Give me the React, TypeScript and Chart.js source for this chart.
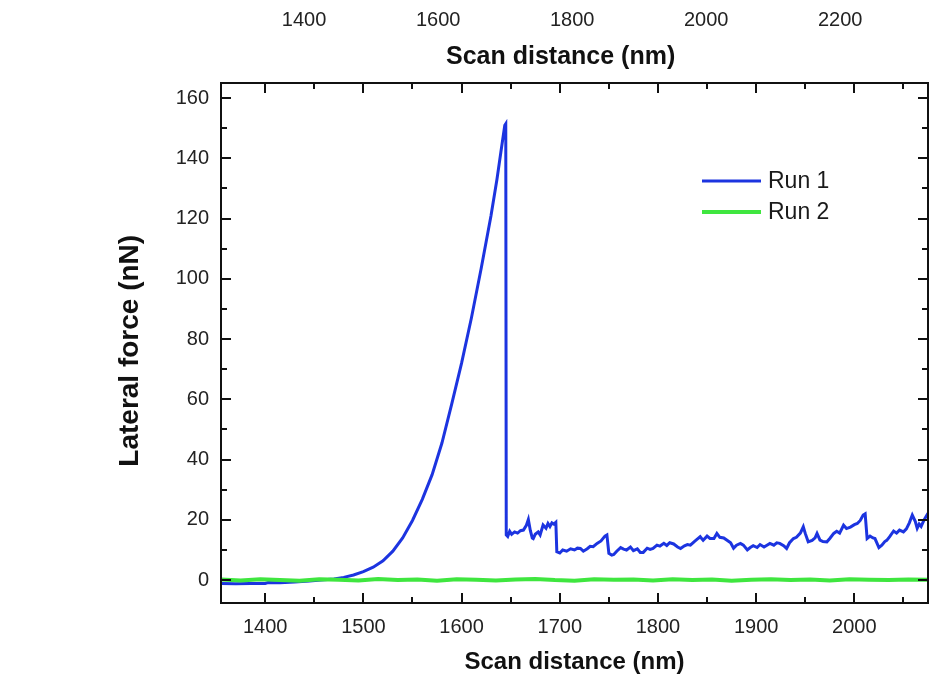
import React, { useEffect, useRef } from "react";
import { Chart, registerables } from "chart.js";

Chart.register(...registerables);

// ---- data ----
const seriesNames = ["Run 1", "Run 2"];
const axisTitleX = "Scan distance (nm)";
const axisTitleY = "Lateral force (nN)";

const runOneX = [
  1355, 1370, 1385, 1400, 1403, 1415, 1430, 1445, 1460, 1470, 1480, 1490, 1500, 1510, 1520, 1530, 1540,
  1550, 1560, 1570, 1580, 1590, 1600, 1610, 1620, 1630, 1636, 1640, 1644, 1645, 1645.5, 1647, 1649, 1651,
  1654, 1657, 1660, 1663, 1666, 1668, 1670, 1672, 1673, 1675, 1678, 1680, 1683, 1686, 1688, 1690, 1692,
  1694, 1696, 1697, 1700, 1703, 1707, 1711, 1715, 1718, 1721, 1724, 1728, 1731, 1734, 1738, 1742, 1746,
  1748, 1750, 1753, 1755, 1758, 1762, 1765, 1768, 1772, 1775, 1779, 1782, 1785, 1789, 1792, 1795, 1799,
  1802, 1806, 1809, 1812, 1816, 1820, 1823, 1827, 1830, 1833, 1837, 1840, 1843, 1846, 1850, 1853, 1857,
  1860, 1863, 1867, 1870, 1874, 1877, 1880, 1884, 1887, 1891, 1894, 1897, 1901, 1904, 1908, 1911, 1914,
  1918, 1921, 1924, 1928, 1931, 1934, 1938, 1941, 1945, 1948, 1950, 1953, 1957, 1960, 1962, 1965, 1968,
  1972, 1975, 1979, 1982, 1985, 1989, 1992, 1996, 2000, 2003, 2006, 2009, 2011, 2013, 2016, 2019, 2021,
  2025, 2028, 2031, 2033, 2036, 2040, 2043, 2046, 2050, 2053, 2056, 2059, 2062, 2064, 2066, 2068, 2071,
  2075,
];
const runOneY = [
  -1.1, -1.2, -1.1, -1.1, -0.8, -0.9, -0.6, -0.3, 0.1, 0.4, 0.9, 1.7, 2.8, 4.3, 6.4, 9.6, 14.0,
  19.8, 26.8, 35.0, 45.5, 58.5, 72.0, 87.0, 103.5, 121.0, 133.0, 142.0, 151.0, 151.5, 15.0, 14.5, 16.2, 15.2,
  16.0, 15.6, 16.4, 16.6, 18.2, 20.1, 16.5, 14.0, 13.8, 15.2, 16.0, 15.0, 18.3, 17.2, 18.8, 17.8, 19.0,
  18.6, 19.2, 9.4, 9.0, 10.0, 9.6, 10.4, 10.0, 10.6, 10.5, 9.6, 10.4, 11.2, 11.1, 12.2, 13.0, 14.6,
  15.0, 8.9, 8.3, 8.5, 9.6, 10.8, 10.3, 10.0, 11.0, 9.8, 10.4, 9.2, 9.2, 10.6, 10.2, 10.5, 11.6,
  11.3, 12.2, 11.5, 12.4, 12.0, 11.0, 10.5, 11.4, 11.8, 11.6, 12.8, 13.6, 14.4, 13.2, 14.6, 13.8, 13.8,
  15.5, 14.2, 14.0, 13.3, 12.4, 10.6, 11.6, 12.2, 11.6, 10.0, 10.8, 11.4, 10.8, 11.8, 11.0, 11.6, 12.2,
  11.6, 12.4, 12.2, 11.4, 10.5, 12.4, 13.8, 14.2, 15.6, 17.7, 15.5, 12.7, 13.2, 14.0, 15.5, 13.3, 12.8,
  12.7, 13.8, 15.5, 16.2, 15.6, 18.2, 17.1, 17.6, 18.4, 18.8, 19.8, 21.6, 22.0, 13.8, 14.6, 14.0, 13.8,
  10.8, 11.6, 12.8, 13.2, 14.4, 16.3, 15.6, 16.6, 16.0, 17.0, 19.0, 21.6, 19.5, 17.2, 18.6, 17.8, 20.0,
  22.2,
];

const runTwoX = [
  1355, 1375, 1395, 1415, 1435, 1455, 1475, 1495, 1515, 1535, 1555, 1575, 1595, 1615, 1635, 1655, 1675,
  1695, 1715, 1735, 1755, 1775, 1795, 1815, 1835, 1855, 1875, 1895, 1915, 1935, 1955, 1975, 1995, 2015,
  2035, 2055, 2075,
];
const runTwoY = [
  0.2, -0.1, 0.3, 0.0, -0.2, 0.3, 0.1, -0.1, 0.4, 0.0, 0.2, -0.2, 0.3, 0.1, -0.1, 0.2, 0.4,
  0.0, -0.2, 0.3, 0.1, 0.2, -0.1, 0.3, 0.0, 0.2, -0.2, 0.1, 0.3, 0.0, 0.2, -0.1, 0.3, 0.1,
  0.0, 0.2, 0.1,
];

const bottomTickLabels = [1400, 1500, 1600, 1700, 1800, 1900, 2000];
const topTickLabels = [1400, 1600, 1800, 2000, 2200];
const leftTickLabels = [0, 20, 40, 60, 80, 100, 120, 140, 160];
const xTickMarks = [1400, 1450, 1500, 1550, 1600, 1650, 1700, 1750, 1800, 1850, 1900, 1950, 2000, 2050];
const yTickMarks = [0, 10, 20, 30, 40, 50, 60, 70, 80, 90, 100, 110, 120, 130, 140, 150, 160];

const FONT = "'Liberation Sans', Arial, Helvetica, sans-serif";
const BLUE = "#1c34e0";
const GREEN = "#3fe63f";
const NBSP = "\u00a0";

const framePlugin = {
  id: "originFrame",
  afterDatasetsDraw(chart: any) {
    const { ctx, chartArea: a, scales } = chart;
    const xs = scales.x;
    const ys = scales.y;
    ctx.save();
    ctx.strokeStyle = "#111";
    ctx.lineWidth = 2;
    ctx.beginPath();
    xTickMarks.forEach((v) => {
      const px = Math.round(xs.getPixelForValue(v));
      const len = v % 100 === 0 ? 10 : 6;
      ctx.moveTo(px, a.bottom);
      ctx.lineTo(px, a.bottom - len);
      ctx.moveTo(px, a.top);
      ctx.lineTo(px, a.top + len);
    });
    yTickMarks.forEach((v) => {
      const py = Math.round(ys.getPixelForValue(v));
      const len = v % 20 === 0 ? 10 : 6;
      ctx.moveTo(a.left, py);
      ctx.lineTo(a.left + len, py);
      ctx.moveTo(a.right, py);
      ctx.lineTo(a.right - len, py);
    });
    ctx.stroke();
    ctx.strokeRect(a.left, a.top, a.right - a.left, a.bottom - a.top);

    // legend
    chart.data.datasets.forEach((ds: any, i: number) => {
      const y = a.top + 98 + i * 31;
      const x0 = a.left + 481;
      const x1 = x0 + 59;
      ctx.beginPath();
      ctx.strokeStyle = ds.borderColor;
      ctx.lineWidth = ds.borderWidth;
      ctx.moveTo(x0, y);
      ctx.lineTo(x1, y);
      ctx.stroke();
      ctx.fillStyle = "#1a1a1a";
      ctx.font = `23px ${FONT}`;
      ctx.textAlign = "left";
      ctx.textBaseline = "middle";
      ctx.fillText(ds.label, x1 + 7, y + 1);
    });
    ctx.restore();
  },
};

const noGrid = { display: false, drawTicks: false, tickLength: 0 };
const plainNumber = (v: any) => String(v);

export default function App() {
  const ref = useRef<HTMLCanvasElement>(null);
  useEffect(() => {
    if (!ref.current) return;
    Chart.defaults.font.family = FONT;
    const chart = new Chart(ref.current, {
      type: "line",
      data: {
        datasets: [
          {
            label: seriesNames[0],
            data: runOneX.map((x, i) => ({ x, y: runOneY[i] })),
            borderColor: BLUE,
            borderWidth: 3,
            pointRadius: 0,
            tension: 0,
            fill: false,
            order: 1,
          },
          {
            label: seriesNames[1],
            data: runTwoX.map((x, i) => ({ x, y: runTwoY[i] })),
            borderColor: GREEN,
            borderWidth: 4,
            pointRadius: 0,
            tension: 0,
            fill: false,
            order: 0,
          },
        ],
      },
      options: {
        responsive: false,
        animation: false,
        events: [],
        layout: { padding: { left: 0, top: 0, bottom: 0, right: 9 } },
        plugins: { legend: { display: false }, tooltip: { enabled: false } },
        scales: {
          x: {
            type: "linear",
            position: "bottom",
            min: 1355,
            max: 2075,
            afterBuildTicks: (s: any) => {
              s.ticks = bottomTickLabels.map((v) => ({ value: v }));
            },
            afterFit: (s: any) => {
              s.height = 74;
            },
            grid: noGrid,
            border: { display: false },
            ticks: {
              padding: 12,
              font: { size: 20 },
              color: "#222",
              maxRotation: 0,
              autoSkip: false,
              callback: plainNumber,
            },
            title: {
              display: true,
              text: axisTitleX,
              font: { size: 24, weight: "bold" },
              color: "#111",
              padding: { top: 0, bottom: 0 },
            },
          },
          y: {
            type: "linear",
            position: "left",
            min: -7.6,
            max: 165,
            afterBuildTicks: (s: any) => {
              s.ticks = leftTickLabels.map((v) => ({ value: v }));
            },
            afterFit: (s: any) => {
              s.width = 221;
            },
            grid: noGrid,
            border: { display: false },
            ticks: { padding: 12, font: { size: 20 }, color: "#222", callback: plainNumber },
            title: {
              display: true,
              text: axisTitleY + NBSP + NBSP,
              font: { size: 28, weight: "bold" },
              color: "#111",
              padding: { top: 113, bottom: 0 },
            },
          },
          xTitleTop: {
            type: "linear",
            position: "top",
            weight: 0,
            min: 1355,
            max: 2075,
            afterFit: (s: any) => {
              s.height = 43;
            },
            grid: noGrid,
            border: { display: false },
            ticks: { display: false },
            title: {
              display: true,
              text: axisTitleX + NBSP + NBSP + NBSP + NBSP,
              font: { size: 25, weight: "bold" },
              color: "#111",
              padding: { top: 2, bottom: 0 },
            },
          },
          xTop: {
            type: "linear",
            position: "top",
            weight: 1,
            min: 1276,
            max: 2331,
            afterBuildTicks: (s: any) => {
              s.ticks = topTickLabels.map((v) => ({ value: v }));
            },
            afterFit: (s: any) => {
              s.height = 40;
            },
            grid: noGrid,
            border: { display: false },
            ticks: {
              padding: 8,
              font: { size: 20 },
              color: "#222",
              maxRotation: 0,
              autoSkip: false,
              callback: plainNumber,
            },
          },
        },
      } as any,
      plugins: [framePlugin],
    });
    return () => chart.destroy();
  }, []);

  return (
    <div style={{ position: "absolute", left: 0, top: 0, width: 937, height: 677, background: "#fff" }}>
      <canvas ref={ref} width={937} height={677} style={{ display: "block" }} />
    </div>
  );
}
